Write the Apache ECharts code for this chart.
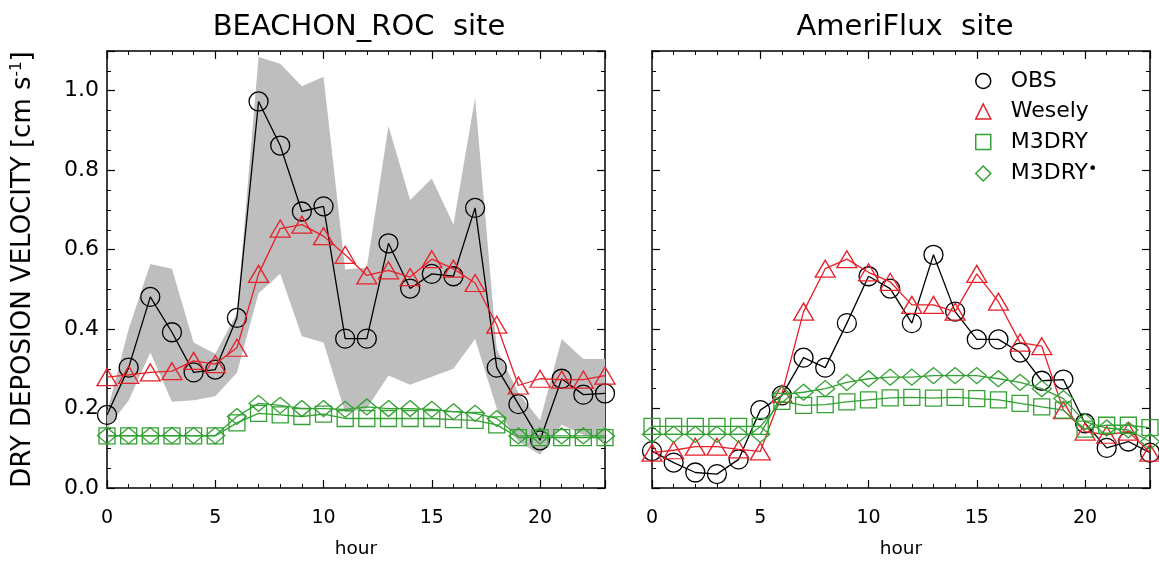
<!DOCTYPE html>
<html><head><meta charset="utf-8">
<script src="https://cdn.jsdelivr.net/npm/echarts@6/dist/echarts.min.js"></script>
<style>html,body{margin:0;padding:0;background:#fff}#c{width:1159px;height:564px}</style>
</head><body><div id="c"></div>
<script>
// ---------- data ----------
const hours = [0,1,2,3,4,5,6,7,8,9,10,11,12,13,14,15,16,17,18,19,20,21,22,23];
const xTickLabels = [0,5,10,15,20];
const yTickLabels = [0.0,0.2,0.4,0.6,0.8,1.0];
const panelTitles = ['BEACHON_ROC  site','AmeriFlux  site'];
const seriesNames = ['OBS','Wesely','M3DRY','M3DRY*'];

// BEACHON_ROC site
const obsL      = [0.184,0.303,0.481,0.392,0.291,0.298,0.428,0.973,0.862,0.696,0.709,0.376,0.376,0.616,0.502,0.539,0.533,0.705,0.303,0.211,0.120,0.275,0.235,0.238];
const weselyL   = [0.279,0.285,0.291,0.294,0.320,0.312,0.353,0.539,0.653,0.663,0.634,0.587,0.535,0.548,0.531,0.576,0.552,0.516,0.411,0.258,0.275,0.273,0.273,0.283];
const m3dryL    = [0.131,0.131,0.131,0.131,0.131,0.131,0.164,0.188,0.184,0.180,0.186,0.175,0.175,0.175,0.175,0.175,0.172,0.170,0.159,0.127,0.127,0.127,0.127,0.127];
const m3dryStL  = [0.132,0.132,0.132,0.132,0.132,0.132,0.180,0.213,0.208,0.200,0.200,0.198,0.204,0.200,0.200,0.198,0.192,0.188,0.175,0.131,0.131,0.131,0.131,0.131];
const bandUpL   = [0.190,0.400,0.564,0.552,0.366,0.338,0.440,1.085,1.068,1.011,1.035,0.550,0.555,0.911,0.725,0.779,0.663,0.982,0.350,0.240,0.170,0.375,0.325,0.325];
const bandLoL   = [0.150,0.220,0.341,0.217,0.221,0.231,0.290,0.490,0.539,0.382,0.366,0.190,0.200,0.283,0.260,0.280,0.300,0.375,0.200,0.117,0.084,0.159,0.134,0.117];

// AmeriFlux site
const obsR      = [0.093,0.064,0.039,0.035,0.072,0.196,0.233,0.328,0.303,0.415,0.533,0.502,0.415,0.587,0.444,0.374,0.374,0.341,0.270,0.273,0.163,0.101,0.117,0.089];
const weselyR   = [0.089,0.095,0.104,0.104,0.097,0.092,0.237,0.444,0.552,0.576,0.543,0.519,0.461,0.461,0.444,0.539,0.469,0.366,0.357,0.196,0.142,0.134,0.142,0.089];
const m3dryR    = [0.155,0.155,0.155,0.155,0.155,0.155,0.218,0.208,0.210,0.217,0.222,0.227,0.228,0.226,0.228,0.225,0.222,0.213,0.204,0.196,0.148,0.158,0.158,0.152];
const m3dryStR  = [0.135,0.135,0.135,0.135,0.135,0.135,0.235,0.241,0.250,0.266,0.275,0.279,0.279,0.283,0.283,0.283,0.275,0.266,0.250,0.225,0.167,0.151,0.146,0.117];

// ---------- chart ----------
const FONT = 'DejaVu Sans';
const BLACK = '#000000', RED = '#e8202a', GREEN = '#33a133', GRAY = '#bebebe';
const chart = echarts.init(document.getElementById('c'));
const pairs = arr => hours.map((h, i) => [h, arr[i]]);

const grids = [
  {left: 107, top: 51, width: 498, height: 443},
  {left: 652, top: 51, width: 498, height: 443}
];

function xAx(gi, pos) {
  const bottom = pos === 'bottom';
  return {
    gridIndex: gi, type: 'value', position: pos, min: 0, max: 23, interval: 5,
    axisLine: {show: true, onZero: false, lineStyle: {color: BLACK, width: 1.5}},
    axisTick: {show: true, inside: true, length: 8, lineStyle: {color: BLACK, width: 1.2}},
    minorTick: {show: true, splitNumber: 5, length: 4, lineStyle: {color: BLACK, width: 1}},
    splitLine: {show: false},
    axisLabel: {show: bottom, showMaxLabel: false, margin: 21, fontSize: 19, color: BLACK, fontFamily: FONT,
      formatter: v => xTickLabels.indexOf(v) >= 0 ? String(v) : ''},
    name: bottom ? 'hour' : '', nameLocation: 'middle', nameGap: 52,
    nameTextStyle: {fontSize: 18.5, color: BLACK, fontFamily: FONT}
  };
}
function yAx(gi, pos) {
  const showLab = gi === 0 && pos === 'left';
  return {
    gridIndex: gi, type: 'value', position: pos, min: 0, max: 1.1, interval: 0.2,
    axisLine: {show: true, onZero: false, lineStyle: {color: BLACK, width: 1.5}},
    axisTick: {show: true, inside: true, length: 8, lineStyle: {color: BLACK, width: 1.2}},
    minorTick: {show: true, splitNumber: 4, length: 4, lineStyle: {color: BLACK, width: 1}},
    splitLine: {show: false},
    axisLabel: {show: showLab, showMaxLabel: false, margin: 8, fontSize: 22, color: BLACK, fontFamily: FONT,
      formatter: v => yTickLabels.some(t => Math.abs(t - v) < 1e-6) ? v.toFixed(1) : ''},
    name: showLab ? '{a|DRY DEPOSION VELOCITY [cm s}{s|-1}{a|]}' : '',
    nameLocation: 'middle', nameGap: 71, nameRotate: 90,
    nameTextStyle: {color: BLACK, fontFamily: FONT, fontSize: 26,
      rich: {a: {fontSize: 26, fontFamily: FONT, color: BLACK},
             s: {fontSize: 15, fontFamily: FONT, color: BLACK, verticalAlign: 'top'}}}
  };
}

const xAxes = [], yAxes = [];
[0, 1].forEach(gi => {
  xAxes.push(xAx(gi, 'bottom'), xAx(gi, 'top'));
  yAxes.push(yAx(gi, 'left'), yAx(gi, 'right'));
});

const styles = {
  'OBS':    {symbol: 'circle',   size: 19,       color: BLACK},
  'Wesely': {symbol: 'triangle', size: [20, 17], color: RED},
  'M3DRY':  {symbol: 'rect',     size: 16,       color: GREEN},
  'M3DRY*': {symbol: 'diamond',  size: [19, 16], color: GREEN}
};

const series = [];
const panels = [
  {obs: obsL, wes: weselyL, m3: m3dryL, m3s: m3dryStL, up: bandUpL, lo: bandLoL},
  {obs: obsR, wes: weselyR, m3: m3dryR, m3s: m3dryStR, up: null, lo: null}
];
panels.forEach((p, gi) => {
  const xi = gi * 2, yi = gi * 2;
  if (p.up) {
    const up = p.up, lo = p.lo;
    series.push({
      type: 'custom', xAxisIndex: xi, yAxisIndex: yi, silent: true, z: 1,
      data: hours.map((h, i) => [h, lo[i], up[i]]),
      encode: {x: 0, y: [1, 2]},
      renderItem: (params, api) => {
        if (params.dataIndex !== 0) return null;
        const pts = [];
        for (let i = 0; i < hours.length; i++) pts.push(api.coord([hours[i], up[i]]));
        for (let i = hours.length - 1; i >= 0; i--) pts.push(api.coord([hours[i], lo[i]]));
        return {type: 'polygon', shape: {points: pts}, style: {fill: GRAY, stroke: null}};
      }
    });
  }
  const vals = {'OBS': p.obs, 'Wesely': p.wes, 'M3DRY': p.m3, 'M3DRY*': p.m3s};
  seriesNames.forEach((nm, k) => {
    const s = styles[nm];
    series.push({
      name: nm, type: 'line', xAxisIndex: xi, yAxisIndex: yi, data: pairs(vals[nm]),
      symbol: s.symbol, symbolSize: s.size, showAllSymbol: true,
      lineStyle: {color: s.color, width: 1.3},
      itemStyle: {color: 'rgba(0,0,0,0)', borderColor: s.color, borderWidth: 1.3},
      z: 3 + k
    });
  });
});

chart.setOption({
  animation: false,
  backgroundColor: '#ffffff',
  title: panelTitles.map((t, i) => ({
    text: t, left: i === 0 ? 354 : 900, top: 8, textAlign: 'center',
    textStyle: {fontSize: 29, fontWeight: 'normal', color: BLACK, fontFamily: FONT}
  })),
  grid: grids,
  xAxis: xAxes,
  yAxis: yAxes,
  legend: {
    orient: 'vertical', left: 970, top: 65, itemWidth: 15, itemHeight: 15, itemGap: 8.5,
    selectedMode: false,
    data: seriesNames.map(nm => ({
      name: nm, icon: styles[nm].symbol,
      itemStyle: {color: 'rgba(0,0,0,0)', borderColor: styles[nm].color, borderWidth: 1.5}
    })),
    formatter: nm => nm === 'M3DRY*' ? '{a|M3DRY}{s|•}' : '{a|' + nm + '}',
    textStyle: {fontSize: 22, fontFamily: FONT, color: BLACK,
      rich: {a: {fontSize: 22, lineHeight: 24, fontFamily: FONT, color: BLACK, padding: [0, 0, 0, 15]},
             s: {fontSize: 16, lineHeight: 24, fontFamily: FONT, color: BLACK, verticalAlign: 'top'}}}
  },
  series: series
});
</script></body></html>
